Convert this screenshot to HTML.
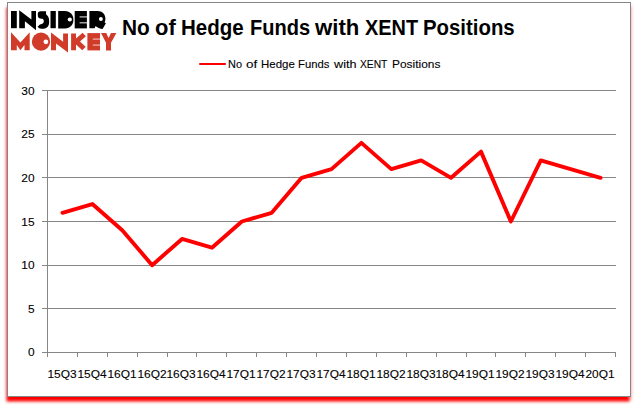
<!DOCTYPE html>
<html><head><meta charset="utf-8"><title>chart</title>
<style>
html,body{margin:0;padding:0;background:#fff;}
body{width:637px;height:408px;position:relative;overflow:hidden;font-family:"Liberation Sans",sans-serif;color:#000;-webkit-text-stroke:0.1px #000;}
#box{position:absolute;left:7px;top:2px;width:622px;height:393px;border:1px solid #868686;background:#fff;box-shadow:-1.5px 4.5px 3px #ff0000, 1px 3px 3px rgba(255,0,0,0.2);}
svg{position:absolute;left:0;top:0;}
.t{position:absolute;white-space:nowrap;transform-origin:0 0;}
.tw{-webkit-text-stroke:0;top:15px;font-weight:bold;font-size:21.6px;line-height:26px;}
.lw{top:56px;font-size:11.2px;line-height:16px;}
.yl{position:absolute;left:0;width:34.6px;text-align:right;font-size:11.2px;line-height:16px;height:16px;transform:scaleX(1.0625);transform-origin:100% 0;}
.xl{position:absolute;top:366px;width:40px;text-align:center;font-size:11.2px;line-height:16px;height:16px;white-space:nowrap;transform:scaleX(1.0625);transform-origin:50% 0;}
</style></head><body>
<div id="box"></div>
<svg width="637" height="408" viewBox="0 0 637 408">
<line x1="42" y1="352.5" x2="616.0" y2="352.5" stroke="#868686" stroke-width="1"/>
<line x1="42" y1="308.5" x2="616.0" y2="308.5" stroke="#868686" stroke-width="1"/>
<line x1="42" y1="265.5" x2="616.0" y2="265.5" stroke="#868686" stroke-width="1"/>
<line x1="42" y1="221.5" x2="616.0" y2="221.5" stroke="#868686" stroke-width="1"/>
<line x1="42" y1="177.5" x2="616.0" y2="177.5" stroke="#868686" stroke-width="1"/>
<line x1="42" y1="134.5" x2="616.0" y2="134.5" stroke="#868686" stroke-width="1"/>
<line x1="42" y1="90.5" x2="616.0" y2="90.5" stroke="#868686" stroke-width="1"/>
<line x1="47.5" y1="90.0" x2="47.5" y2="353.0" stroke="#868686" stroke-width="1"/>
<line x1="47.5" y1="352.5" x2="47.5" y2="357.0" stroke="#868686" stroke-width="1"/>
<line x1="77.5" y1="352.5" x2="77.5" y2="357.0" stroke="#868686" stroke-width="1"/>
<line x1="107.5" y1="352.5" x2="107.5" y2="357.0" stroke="#868686" stroke-width="1"/>
<line x1="137.5" y1="352.5" x2="137.5" y2="357.0" stroke="#868686" stroke-width="1"/>
<line x1="167.5" y1="352.5" x2="167.5" y2="357.0" stroke="#868686" stroke-width="1"/>
<line x1="196.5" y1="352.5" x2="196.5" y2="357.0" stroke="#868686" stroke-width="1"/>
<line x1="226.5" y1="352.5" x2="226.5" y2="357.0" stroke="#868686" stroke-width="1"/>
<line x1="256.5" y1="352.5" x2="256.5" y2="357.0" stroke="#868686" stroke-width="1"/>
<line x1="286.5" y1="352.5" x2="286.5" y2="357.0" stroke="#868686" stroke-width="1"/>
<line x1="316.5" y1="352.5" x2="316.5" y2="357.0" stroke="#868686" stroke-width="1"/>
<line x1="346.5" y1="352.5" x2="346.5" y2="357.0" stroke="#868686" stroke-width="1"/>
<line x1="376.5" y1="352.5" x2="376.5" y2="357.0" stroke="#868686" stroke-width="1"/>
<line x1="406.5" y1="352.5" x2="406.5" y2="357.0" stroke="#868686" stroke-width="1"/>
<line x1="436.5" y1="352.5" x2="436.5" y2="357.0" stroke="#868686" stroke-width="1"/>
<line x1="466.5" y1="352.5" x2="466.5" y2="357.0" stroke="#868686" stroke-width="1"/>
<line x1="495.5" y1="352.5" x2="495.5" y2="357.0" stroke="#868686" stroke-width="1"/>
<line x1="525.5" y1="352.5" x2="525.5" y2="357.0" stroke="#868686" stroke-width="1"/>
<line x1="555.5" y1="352.5" x2="555.5" y2="357.0" stroke="#868686" stroke-width="1"/>
<line x1="585.5" y1="352.5" x2="585.5" y2="357.0" stroke="#868686" stroke-width="1"/>
<line x1="615.5" y1="352.5" x2="615.5" y2="357.0" stroke="#868686" stroke-width="1"/>
<polyline points="62.45,212.77 92.34,204.03 122.24,230.23 152.13,265.17 182.03,238.97 211.92,247.70 241.82,221.50 271.71,212.77 301.61,177.83 331.50,169.10 361.39,142.90 391.29,169.10 421.18,160.37 451.08,177.83 480.97,151.63 510.87,221.50 540.76,160.37 570.66,169.10 600.55,177.83" fill="none" stroke="#ff0000" stroke-width="3.9" stroke-linecap="round" stroke-linejoin="round"/>
<line x1="200.1" y1="64" x2="225" y2="64" stroke="#ff0000" stroke-width="2.2" stroke-linecap="round"/>

<g fill="#000">
<rect x="11" y="11" width="5.8" height="17.2"/>
<path d="M19.2,10.2 L31.4,19.6 L31.4,11 L36,11 L36,30.2 L24.9,21.2 L24.9,28.2 L19.2,28.2 Z"/>
<path d="M46.06,11.2 L40.6,11.2 C38.8,11.2 37.8,12.3 37.8,13.8 L37.8,15.6 C37.8,17.2 38.6,18.2 40,18.5 L42,18.8 C43.2,19 43.8,19.9 43.8,21.2 C43.8,22.6 43,23.5 41.8,23.9 L39.9,24.6 L37.6,26.8 C38.4,28 39.6,28.7 41.2,28.7 L43.6,28.7 C46.8,28.7 49.1,26.2 49.1,22.6 L49.1,20.4 C49.1,17.6 47.9,15.6 46.06,14.2 Z"/>
<rect x="50.5" y="11" width="5.3" height="17.2"/>
<path d="M58.2,11 L65,11 C70,11 73.4,14.6 73.4,19.7 C73.4,24.8 70,28.4 65,28.4 L58.2,28.4 Z"/>
<path d="M74.7,11 L86.9,11 L86.9,28.4 L74.7,28.4 Z"/>
<path d="M89.4,11 L97.5,11 C102.5,11 105.4,14.4 105.4,18.6 C105.4,20.4 105,21.8 104.6,22.6 L105.9,23.3 L102.6,29 C100.4,28.9 98,28 96.6,26.8 L95.3,26.3 L94.7,28.2 L89.4,28.2 Z"/>
</g>
<g fill="#fff">
<circle cx="69.8" cy="19.5" r="2.1"/>
<circle cx="100.9" cy="19.05" r="1.95"/>
<rect x="79.6" y="16.3" width="7.4" height="1.2" opacity="0.78"/>
<rect x="79.6" y="22.2" width="7.4" height="1.2" opacity="0.78"/>
</g>
<g fill="#d13b29">
<path d="M11,32.2 L20.4,42.6 L29.7,32.2 L29.7,50.2 L24.5,50.2 L24.5,45 L20.4,50.2 L16.8,45 L16.8,50.2 L11,50.2 Z"/>
<circle cx="41" cy="41.65" r="9.15"/>
<path d="M51,32.4 L63.1,41.8 L63.1,33.4 L68,33.4 L68,52.4 L56,43.4 L56,50.3 L51,50.3 Z"/>
<path d="M71.1,33.4 L76,33.4 L76,38.6 L82.6,32.8 L85.9,36.3 L80,41.6 L85.7,46.7 L82.3,50.3 L76,44.6 L76,50.3 L71.1,50.3 Z"/>
<rect x="87.4" y="33.1" width="12.6" height="17.3"/>
<path d="M101,33.1 L106.2,33.1 L108.6,38 L111,33.1 L116.4,33.1 L111,42.8 L111,50.4 L106,50.4 L106,42.8 Z"/>
</g>
<g fill="#fff">
<circle cx="45.9" cy="41.8" r="2.4"/>
<rect x="92.8" y="38.5" width="7.2" height="1.2" opacity="0.62"/>
<rect x="92.8" y="44.5" width="7.2" height="1.2" opacity="0.62"/>
</g>

</svg>
<span class="t tw" style="left:122.05px;transform:scaleX(0.9660)">No</span>
<span class="t tw" style="left:155.11px;transform:scaleX(1.0154)">of</span>
<span class="t tw" style="left:181.17px;transform:scaleX(0.9506)">Hedge</span>
<span class="t tw" style="left:249.91px;transform:scaleX(0.9282)">Funds</span>
<span class="t tw" style="left:315.00px;transform:scaleX(1.0267)">with</span>
<span class="t tw" style="left:364.97px;transform:scaleX(0.9207)">XENT</span>
<span class="t tw" style="left:423.18px;transform:scaleX(0.9435)">Positions</span>
<span class="t lw" style="left:228.44px;transform:scaleX(0.9769)">No</span>
<span class="t lw" style="left:246.20px;transform:scaleX(1.2050)">of</span>
<span class="t lw" style="left:260.50px;transform:scaleX(1.0247)">Hedge</span>
<span class="t lw" style="left:298.41px;transform:scaleX(1.0087)">Funds</span>
<span class="t lw" style="left:333.70px;transform:scaleX(1.1325)">with</span>
<span class="t lw" style="left:360.17px;transform:scaleX(0.9159)">XENT</span>
<span class="t lw" style="left:392.06px;transform:scaleX(1.0653)">Positions</span>
<div class="yl" style="top:344px">0</div>
<div class="yl" style="top:301px">5</div>
<div class="yl" style="top:257px">10</div>
<div class="yl" style="top:214px">15</div>
<div class="yl" style="top:170px">20</div>
<div class="yl" style="top:126px">25</div>
<div class="yl" style="top:83px">30</div>
<div class="xl" style="left:41.85px">15Q3</div>
<div class="xl" style="left:71.74px">15Q4</div>
<div class="xl" style="left:101.64px">16Q1</div>
<div class="xl" style="left:131.53px">16Q2</div>
<div class="xl" style="left:161.43px">16Q3</div>
<div class="xl" style="left:191.32px">16Q4</div>
<div class="xl" style="left:221.22px">17Q1</div>
<div class="xl" style="left:251.11px">17Q2</div>
<div class="xl" style="left:281.01px">17Q3</div>
<div class="xl" style="left:310.90px">17Q4</div>
<div class="xl" style="left:340.79px">18Q1</div>
<div class="xl" style="left:370.69px">18Q2</div>
<div class="xl" style="left:400.58px">18Q3</div>
<div class="xl" style="left:430.48px">18Q4</div>
<div class="xl" style="left:460.37px">19Q1</div>
<div class="xl" style="left:490.27px">19Q2</div>
<div class="xl" style="left:520.16px">19Q3</div>
<div class="xl" style="left:550.06px">19Q4</div>
<div class="xl" style="left:579.95px">20Q1</div>
</body></html>
